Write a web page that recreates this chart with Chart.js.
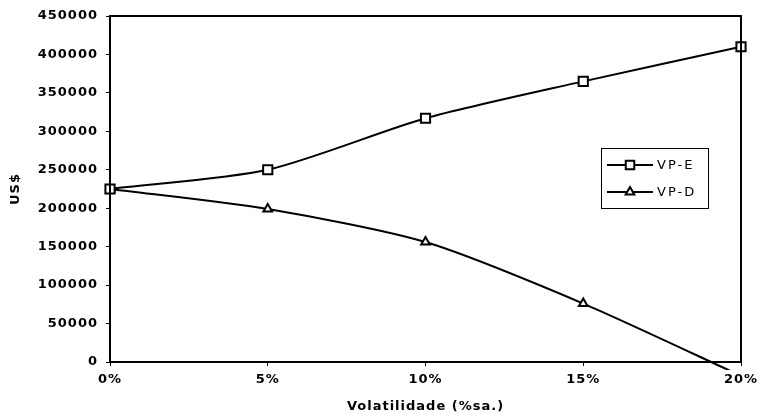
<!DOCTYPE html>
<html>
<head>
<meta charset="utf-8">
<script src="https://cdn.jsdelivr.net/npm/chart.js@4/dist/chart.umd.min.js"></script>
<style>
    html, body { margin: 0; padding: 0; background: #fff; }
    #wrap { width: 765px; height: 420px; position: relative; }
</style>
</head>
<body>
<div id="wrap"><canvas id="chart"></canvas></div>
<script>
const volatility = ['0%', '5%', '10%', '15%', '20%'];
const vpE = [225000, 250000, 317000, 365000, 410000];
const vpD = [225000, 199000, 156000, 76000, -18000];
const yTicks = [0, 50000, 100000, 150000, 200000, 250000, 300000, 350000, 400000, 450000];

const FONT = 'DejaVu Sans';

// the scanned original has wide lettering, so space the text out a bit
const wideText = {
    id: 'wideText',
    beforeDraw(chart) {
        chart.ctx.letterSpacing = '1px';
    }
};

// box round the plot area + the small legend inside it
const frameAndLegend = {
    id: 'frameAndLegend',
    afterDatasetsDraw(chart) {
        const { ctx, chartArea: a } = chart;
        ctx.save();
        ctx.strokeStyle = '#000';
        ctx.lineWidth = 2;
        ctx.strokeRect(a.left, a.top, a.right - a.left, a.bottom - a.top);

        const bx = a.right - 140, by = 148, bw = 107, bh = 60;
        ctx.fillStyle = '#fff';
        ctx.fillRect(bx, by, bw, bh);
        ctx.lineWidth = 1;
        ctx.strokeRect(bx + 0.5, by + 0.5, bw, bh);

        chart.data.datasets.forEach((ds, i) => {
            const y = by + 17 + i * 27;
            ctx.lineWidth = 2;
            ctx.beginPath();
            ctx.moveTo(bx + 6, y);
            ctx.lineTo(bx + 52, y);
            ctx.stroke();
            ctx.fillStyle = '#fff';
            Chart.helpers.drawPoint(ctx, {
                pointStyle: ds.pointStyle,
                radius: ds.pointStyle === 'rect' ? 6 : 5,
                borderWidth: 2,
                rotation: 0
            }, bx + 29, y);
            ctx.fillStyle = '#000';
            ctx.font = '13px ' + FONT;
            ctx.letterSpacing = '2px';
            ctx.textBaseline = 'middle';
            ctx.fillText(ds.label, bx + 56, y + 1);
        });
        ctx.restore();
    }
};

new Chart(document.getElementById('chart'), {
    type: 'line',
    data: {
        labels: volatility,
        datasets: [{
            label: 'VP-E',
            data: vpE,
            borderColor: '#000',
            backgroundColor: '#fff',
            borderWidth: 2,
            pointStyle: 'rect',
            pointRadius: 6.5,
            pointBorderWidth: 2,
            tension: 0.25,
        }, {
            label: 'VP-D',
            data: vpD,
            borderColor: '#000',
            backgroundColor: '#fff',
            borderWidth: 2,
            pointStyle: 'triangle',
            radius: ctx => ctx.raw < 0 ? 0 : 5,
            pointBorderWidth: 2,
            tension: 0.25,
            clip: { left: 5, top: 5, right: 5, bottom: 8 },
        }],
    },
    options: {
        responsive: true,
        maintainAspectRatio: false,
        animation: false,
        layout: { padding: { left: 8, top: 16, right: 24, bottom: 6 } },
        plugins: {
            legend: { display: false },
            tooltip: { enabled: false },
        },
        scales: {
            x: {
                offset: false,
                afterFit: scale => { scale.height = 52; },
                grid: { display: true, drawOnChartArea: false, tickLength: 4, color: '#000', lineWidth: 1 },
                border: { color: '#000', width: 2 },
                ticks: { color: '#000', font: { family: FONT, size: 13, weight: 'bold' }, padding: 6, maxRotation: 0 },
                title: {
                    display: true,
                    text: 'Volatilidade (%sa.)',
                    color: '#000',
                    font: { family: FONT, size: 13, weight: 'bold' },
                    padding: { top: 4, bottom: 0 },
                },
            },
            y: {
                min: 0,
                max: 450000,
                afterFit: scale => { scale.width = 102; },
                afterBuildTicks: scale => { scale.ticks = yTicks.map(v => ({ value: v })); },
                grid: { display: true, drawOnChartArea: false, tickLength: 4, color: '#000', lineWidth: 1 },
                border: { color: '#000', width: 2 },
                ticks: { color: '#000', font: { family: FONT, size: 13, weight: 'bold' }, padding: 8, callback: v => String(v) },
                title: {
                    display: true,
                    text: 'US$',
                    color: '#000',
                    font: { family: FONT, size: 13, weight: 'bold' },
                    padding: 0,
                },
            },
        },
    },
    plugins: [wideText, frameAndLegend],
});
</script>
</body>
</html>
